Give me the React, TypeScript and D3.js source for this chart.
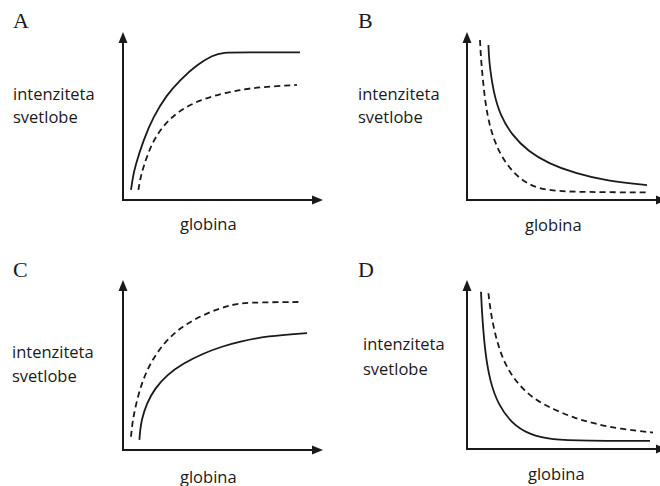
import React from "react";
import * as d3 from "d3";

type P = [number, number];

// Panel letters and labels
const panelLetters = ["A", "B", "C", "D"];
const yLabelLines = ["intenziteta", "svetlobe"];
const xLabel = "globina";

// Curves (x: depth 0..10, y: intensity 0..10)
const solidA: P[] = [[0.4, 0.6], [0.5, 1.4], [0.6, 1.98], [1.02, 3.57], [1.52, 4.96], [2.18, 6.25], [2.85, 7.14], [3.68, 8.04], [4.5, 8.63], [5.0, 8.79], [6.0, 8.79], [8.85, 8.79]];
const dashedA: P[] = [[0.77, 0.6], [0.85, 1.2], [1.02, 1.98], [1.43, 3.37], [2.02, 4.46], [2.85, 5.36], [3.85, 5.95], [4.85, 6.31], [5.85, 6.55], [6.8, 6.72], [8.7, 6.85]];

const solidB: P[] = [[1.07, 9.23], [1.1, 8.5], [1.15, 7.84], [1.32, 6.45], [1.65, 5.06], [2.24, 3.87], [3.07, 2.88], [4.07, 2.18], [5.4, 1.59], [7.0, 1.13], [9.0, 0.89]];
const dashedB: P[] = [[0.65, 9.52], [0.69, 8.6], [0.74, 7.84], [0.9, 5.85], [1.15, 4.27], [1.57, 2.88], [2.24, 1.68], [3.07, 0.89], [4.07, 0.54], [5.9, 0.47], [9.05, 0.45]];

const dashedC: P[] = [[0.4, 0.79], [0.45, 1.4], [0.52, 1.98], [0.77, 3.37], [1.18, 4.76], [1.77, 5.95], [2.52, 6.95], [3.35, 7.64], [4.35, 8.23], [5.35, 8.63], [6.2, 8.79], [8.85, 8.81]];
const solidC: P[] = [[0.82, 0.6], [0.86, 1.2], [0.93, 1.79], [1.18, 2.78], [1.6, 3.67], [2.18, 4.46], [3.02, 5.16], [4.02, 5.76], [5.02, 6.19], [5.85, 6.45], [7.2, 6.79], [9.2, 6.96]];

const solidD: P[] = [[0.7, 9.36], [0.73, 8.6], [0.77, 7.78], [0.9, 5.79], [1.15, 4.0], [1.57, 2.62], [2.24, 1.53], [3.07, 0.88], [4.24, 0.54], [5.9, 0.49], [9.15, 0.48]];
const dashedD: P[] = [[1.07, 9.27], [1.15, 8.5], [1.24, 7.78], [1.49, 6.39], [1.9, 5.0], [2.57, 3.81], [3.4, 2.92], [4.4, 2.32], [5.4, 1.83], [6.4, 1.5], [7.65, 1.19], [9.3, 0.98]];

const panelSolid = [solidA, solidB, solidC, solidD];
const panelDashed = [dashedA, dashedB, dashedC, dashedD];

// Layout
const layout = [
  { ox: 123, oy: 200, top: 32, right: 323, lx: 13, ly: 28, tx: 13, ty1: 100, ty2: 123, gx: 180, gy: 230 },
  { ox: 467, oy: 200, top: 32, right: 667, lx: 358, ly: 28, tx: 358, ty1: 100, ty2: 123, gx: 525, gy: 231 },
  { ox: 123, oy: 450, top: 280, right: 323, lx: 13, ly: 277, tx: 12, ty1: 358, ty2: 382, gx: 180, gy: 483 },
  { ox: 467, oy: 449, top: 280, right: 667, lx: 358, ly: 277, tx: 363, ty1: 350, ty2: 375, gx: 528, gy: 480 },
];

const INK = "#1a1a1a";
const sansFont = "'Open Sans', sans-serif";

function Panel({ i }: { i: number }) {
  const L = layout[i];
  const x = d3.scaleLinear().domain([0, 10]).range([L.ox, L.ox + 200]);
  const y = d3.scaleLinear().domain([0, 10]).range([L.oy, L.oy - 168]);
  const mk = d3
    .line<P>()
    .x((d) => x(d[0]))
    .y((d) => y(d[1]))
    .curve(d3.curveBasis);
  const ah = 11;
  const aw = 4.5;
  return (
    <g>
      <text x={L.lx} y={L.ly} fontFamily="'Liberation Serif', serif" fontSize={22} fill={INK}>
        {panelLetters[i]}
      </text>
      <text x={L.tx} y={L.ty1} fontFamily={sansFont} fontSize={16.5} fill={INK}>
        {yLabelLines[0]}
      </text>
      <text x={L.tx} y={L.ty2} fontFamily={sansFont} fontSize={16.5} fill={INK}>
        {yLabelLines[1]}
      </text>
      <text x={L.gx} y={L.gy} fontFamily={sansFont} fontSize={16.5} fill={INK}>
        {xLabel}
      </text>
      {/* axes */}
      <line x1={L.ox} y1={L.oy} x2={L.ox} y2={L.top + ah - 1} stroke={INK} strokeWidth={2} />
      <line x1={L.ox - 1} y1={L.oy} x2={L.right - ah + 1} y2={L.oy} stroke={INK} strokeWidth={2} />
      <path d={`M${L.ox},${L.top} L${L.ox - aw},${L.top + ah} L${L.ox + aw},${L.top + ah} Z`} fill={INK} />
      <path d={`M${L.right},${L.oy} L${L.right - ah},${L.oy - aw} L${L.right - ah},${L.oy + aw} Z`} fill={INK} />
      {/* curves */}
      <path d={mk(panelSolid[i]) || ""} fill="none" stroke={INK} strokeWidth={1.8} />
      <path d={mk(panelDashed[i]) || ""} fill="none" stroke={INK} strokeWidth={1.8} strokeDasharray="6,4" />
    </g>
  );
}

export default function App() {
  return (
    <svg
      width={660}
      height={486}
      style={{ position: "absolute", left: 0, top: 0, background: "#fff" }}
    >
      <rect width={660} height={486} fill="#fff" />
      {[0, 1, 2, 3].map((i) => (
        <Panel key={i} i={i} />
      ))}
    </svg>
  );
}
